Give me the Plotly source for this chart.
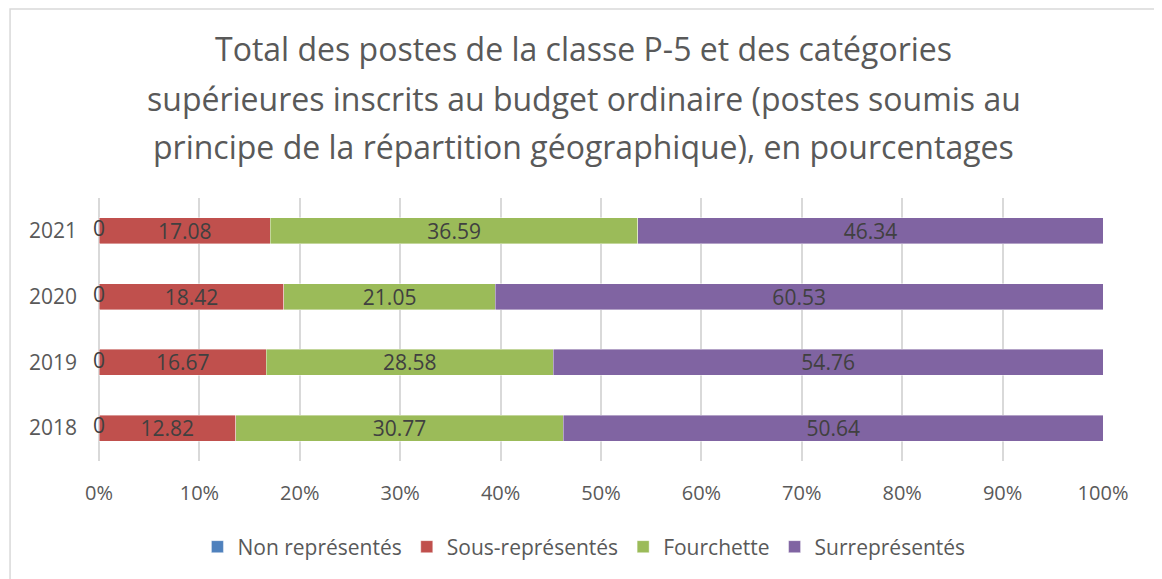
import plotly.graph_objects as go

years = ["2018", "2019", "2020", "2021"]
non_representes = [0, 0, 0, 0]
sous_representes = [12.82, 16.67, 18.42, 17.08]
fourchette = [30.77, 28.58, 21.05, 36.59]
surrepresentes = [50.64, 54.76, 60.53, 46.34]

series_names = ["Non représentés", "Sous-représentés", "Fourchette", "Surreprésentés"]
series_values = [non_representes, sous_representes, fourchette, surrepresentes]
series_colors = ["#4F81BD", "#C0504D", "#9BBB59", "#8064A2"]

title_lines = [
    "Total des postes de la classe P-5 et des catégories",
    "supérieures inscrits au budget ordinaire (postes soumis au",
    "principe de la répartition géographique), en pourcentages",
]
tick_vals = [0, 10, 20, 30, 40, 50, 60, 70, 80, 90, 100]
tick_text = ["0%", "10%", "20%", "30%", "40%", "50%", "60%", "70%", "80%", "90%", "100%"]

FONT = "Open Sans"
TXT = "#404040"

fig = go.Figure()
for name, vals, col in zip(series_names, series_values, series_colors):
    fig.add_trace(go.Bar(
        y=years, x=vals, name=name, orientation="h",
        marker=dict(color=col, line=dict(color="rgba(255,255,255,0.5)", width=0.8)),
        text=[f"{v:g}" for v in vals], texttemplate="%{text}",
        textposition="inside", insidetextanchor="middle", textangle=0,
        constraintext="none",
        textfont=dict(family=FONT, size=21, color=TXT),
        width=0.394,
    ))

# labels for the zero-width "Non représentés" segment
fig.add_trace(go.Scatter(
    y=years, x=non_representes, mode="text",
    text=[f"{v:g}" for v in non_representes], textposition="middle center",
    textfont=dict(family=FONT, size=21, color=TXT),
    showlegend=False, hoverinfo="skip", cliponaxis=False,
))

fig.update_layout(
    width=1162, height=579,
    barmode="stack", barnorm="percent",
    plot_bgcolor="white", paper_bgcolor="white",
    margin=dict(l=91, r=67, t=190, b=126),
    font=dict(family=FONT, color="#595959"),
    xaxis=dict(range=[0, 100], tickvals=tick_vals, ticktext=tick_text,
               showgrid=True, gridcolor="#D9D9D9", gridwidth=1.5,
               zeroline=True, zerolinecolor="#D9D9D9", zerolinewidth=1.5,
               tickfont=dict(family=FONT, size=20, color="#595959"),
               ticklabelstandoff=18, fixedrange=True),
    yaxis=dict(categoryorder="array", categoryarray=years,
               showgrid=False, zeroline=False,
               tickfont=dict(family=FONT, size=21, color="#595959"),
               ticklabelstandoff=21),
    legend=dict(orientation="h", x=0.483, xanchor="center", y=-0.327, yanchor="middle",
                font=dict(family=FONT, size=21, color="#595959"), traceorder="normal",
                itemwidth=30),
    showlegend=True,
)

title_y = [1.5703, 1.3802, 1.1977]
for line, yy in zip(title_lines, title_y):
    fig.add_annotation(text=line, xref="paper", yref="paper", x=0.483, y=yy,
                       xanchor="center", yanchor="middle", showarrow=False,
                       font=dict(family=FONT, size=32, color="#595959"))

fig.add_shape(type="rect", xref="paper", yref="paper",
              x0=-0.0886, x1=1.0538, y0=-0.47, y1=1.7186,
              line=dict(color="#D9D9D9", width=1.5), fillcolor="rgba(0,0,0,0)", layer="below")

fig.write_html("out.html")
